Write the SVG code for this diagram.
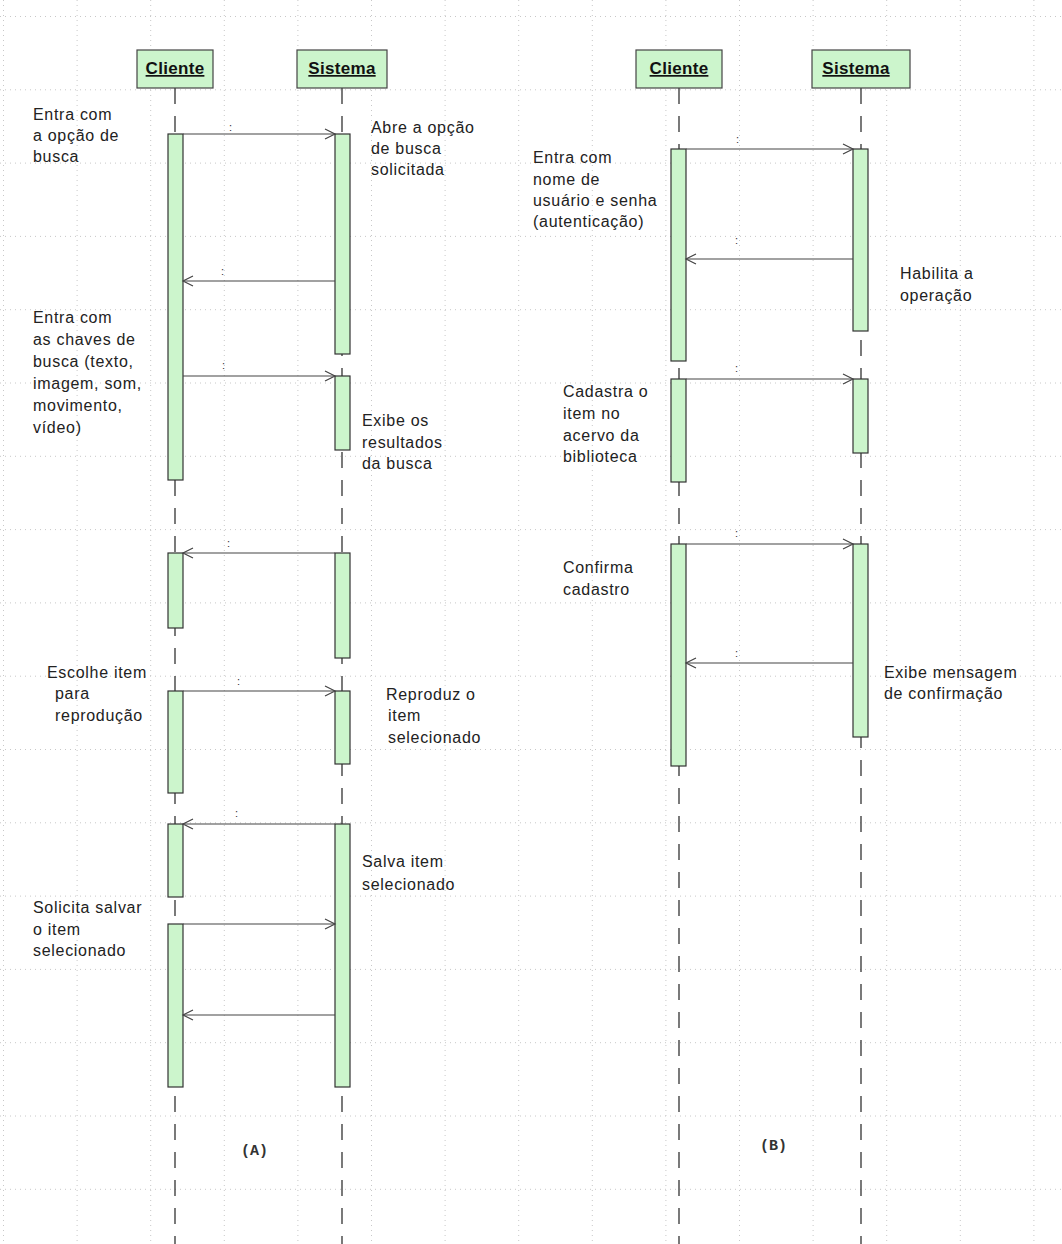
<svg xmlns="http://www.w3.org/2000/svg" width="1062" height="1244" viewBox="0 0 1062 1244">
<defs>
<style>
.grid{stroke:#c8c8c8;stroke-width:1;stroke-dasharray:1 4;fill:none}
.act{fill:#ccf5cc;stroke:#333;stroke-width:1.2}
.hdr{fill:#ccf5cc;stroke:#444;stroke-width:1.2}
.life{stroke:#333;stroke-width:1.3;stroke-dasharray:16 12;fill:none}
.msg{stroke:#444;stroke-width:1.2;fill:none;marker-end:url(#open)}
.lbl{font-family:"Liberation Sans",Arial,sans-serif;font-size:16px;letter-spacing:0.7px;fill:#222}
.ht{font-family:"Liberation Sans",Arial,sans-serif;font-size:17px;font-weight:bold;letter-spacing:0.3px;text-decoration:underline;fill:#111}
.col{font-family:"Liberation Sans",Arial,sans-serif;font-size:11px;fill:#333}
.cap{font-family:"Liberation Mono","Courier New",monospace;font-size:15px;font-weight:bold;fill:#333}
</style>
<marker id="open" markerUnits="userSpaceOnUse" markerWidth="14" markerHeight="14" refX="11" refY="6" orient="auto">
<path d="M1,1 L11,6 L1,11" fill="none" stroke="#444" stroke-width="1.2"/>
</marker>
</defs>
<rect width="1062" height="1244" fill="#fff"/>
<g id="grid" class="grid">
<path d="M3.5,0V1244M77.1,0V1244M150.7,0V1244M224.3,0V1244M297.9,0V1244M371.5,0V1244M445.1,0V1244M518.7,0V1244M592.3,0V1244M665.9,0V1244M739.5,0V1244M813.1,0V1244M886.7,0V1244M960.3,0V1244M1033.9,0V1244"/>
<path d="M0,16.5H1062M0,89.8H1062M0,163.1H1062M0,236.4H1062M0,309.7H1062M0,383H1062M0,456.3H1062M0,529.6H1062M0,602.9H1062M0,676.2H1062M0,749.5H1062M0,822.8H1062M0,896.1H1062M0,969.4H1062M0,1042.7H1062M0,1116H1062M0,1189.3H1062"/>
</g>
<g id="lifelines">
<line class="life" x1="175" y1="88" x2="175" y2="1244"/>
<line class="life" x1="342" y1="88" x2="342" y2="1244"/>
<line class="life" x1="679" y1="88" x2="679" y2="1244"/>
<line class="life" x1="861" y1="88" x2="861" y2="1244"/>
</g>
<g id="cliente-a"><rect class="hdr" x="137" y="50" width="76" height="38"/><text class="ht" x="175" y="74" text-anchor="middle">Cliente</text></g>
<g id="sistema-a"><rect class="hdr" x="297" y="50" width="90" height="38"/><text class="ht" x="342" y="74" text-anchor="middle">Sistema</text></g>
<g id="cliente-b"><rect class="hdr" x="636" y="50" width="86" height="38"/><text class="ht" x="679" y="74" text-anchor="middle">Cliente</text></g>
<g id="sistema-b"><rect class="hdr" x="812" y="50" width="98" height="38"/><text class="ht" x="856" y="74" text-anchor="middle">Sistema</text></g>
<g id="activations">
<rect class="act" x="168" y="134" width="15" height="346"/>
<rect class="act" x="168" y="553" width="15" height="75"/>
<rect class="act" x="168" y="691" width="15" height="102"/>
<rect class="act" x="168" y="824" width="15" height="73"/>
<rect class="act" x="168" y="924" width="15" height="163"/>
<rect class="act" x="335" y="134" width="15" height="220"/>
<rect class="act" x="335" y="376" width="15" height="74"/>
<rect class="act" x="335" y="553" width="15" height="105"/>
<rect class="act" x="335" y="691" width="15" height="73"/>
<rect class="act" x="335" y="824" width="15" height="263"/>
<rect class="act" x="671" y="149" width="15" height="212"/>
<rect class="act" x="671" y="379" width="15" height="103"/>
<rect class="act" x="671" y="544" width="15" height="222"/>
<rect class="act" x="853" y="149" width="15" height="182"/>
<rect class="act" x="853" y="379" width="15" height="74"/>
<rect class="act" x="853" y="544" width="15" height="193"/>
</g>
<g id="connectors">
<line class="msg" x1="183" y1="134" x2="335" y2="134"/>
<line class="msg" x1="335" y1="281" x2="183" y2="281"/>
<line class="msg" x1="183" y1="376" x2="335" y2="376"/>
<line class="msg" x1="335" y1="553" x2="183" y2="553"/>
<line class="msg" x1="183" y1="691" x2="335" y2="691"/>
<line class="msg" x1="335" y1="824" x2="183" y2="824"/>
<line class="msg" x1="183" y1="924" x2="335" y2="924"/>
<line class="msg" x1="335" y1="1015" x2="183" y2="1015"/>
<line class="msg" x1="686" y1="149" x2="853" y2="149"/>
<line class="msg" x1="853" y1="259" x2="686" y2="259"/>
<line class="msg" x1="686" y1="379" x2="853" y2="379"/>
<line class="msg" x1="686" y1="544" x2="853" y2="544"/>
<line class="msg" x1="853" y1="663" x2="686" y2="663"/>
<text class="col" x="229" y="131">:</text>
<text class="col" x="221" y="275">:</text>
<text class="col" x="222" y="369">:</text>
<text class="col" x="227" y="547">:</text>
<text class="col" x="237" y="685">:</text>
<text class="col" x="235" y="817">:</text>
<text class="col" x="736" y="143">:</text>
<text class="col" x="735" y="244">:</text>
<text class="col" x="735" y="372">:</text>
<text class="col" x="735" y="537">:</text>
<text class="col" x="735" y="657">:</text>
</g>
<g id="labels-a" class="lbl">
<text x="33" y="120">Entra com</text>
<text x="33" y="141">a opção de</text>
<text x="33" y="162">busca</text>
<text x="371" y="133">Abre a opção</text>
<text x="371" y="154">de busca</text>
<text x="371" y="175">solicitada</text>
<text x="33" y="323">Entra com</text>
<text x="33" y="345">as chaves de</text>
<text x="33" y="367">busca (texto,</text>
<text x="33" y="389">imagem, som,</text>
<text x="33" y="411">movimento,</text>
<text x="33" y="433">vídeo)</text>
<text x="362" y="426">Exibe os</text>
<text x="362" y="448">resultados</text>
<text x="362" y="469">da busca</text>
<text x="47" y="678">Escolhe item</text>
<text x="55" y="699">para</text>
<text x="55" y="721">reprodução</text>
<text x="386" y="700">Reproduz o</text>
<text x="388" y="721">item</text>
<text x="388" y="743">selecionado</text>
<text x="362" y="867">Salva item</text>
<text x="362" y="890">selecionado</text>
<text x="33" y="913">Solicita salvar</text>
<text x="33" y="935">o item</text>
<text x="33" y="956">selecionado</text>
</g>
<g id="labels-b" class="lbl">
<text x="533" y="163">Entra com</text>
<text x="533" y="185">nome de</text>
<text x="533" y="206">usuário e senha</text>
<text x="533" y="227">(autenticação)</text>
<text x="900" y="279">Habilita a</text>
<text x="900" y="301">operação</text>
<text x="563" y="397">Cadastra o</text>
<text x="563" y="419">item no</text>
<text x="563" y="441">acervo da</text>
<text x="563" y="462">biblioteca</text>
<text x="563" y="573">Confirma</text>
<text x="563" y="595">cadastro</text>
<text x="884" y="678">Exibe mensagem</text>
<text x="884" y="699">de confirmação</text>
</g>
<text class="cap" x="241" y="1155">(A)</text>
<text class="cap" x="760" y="1150">(B)</text>
</svg>
